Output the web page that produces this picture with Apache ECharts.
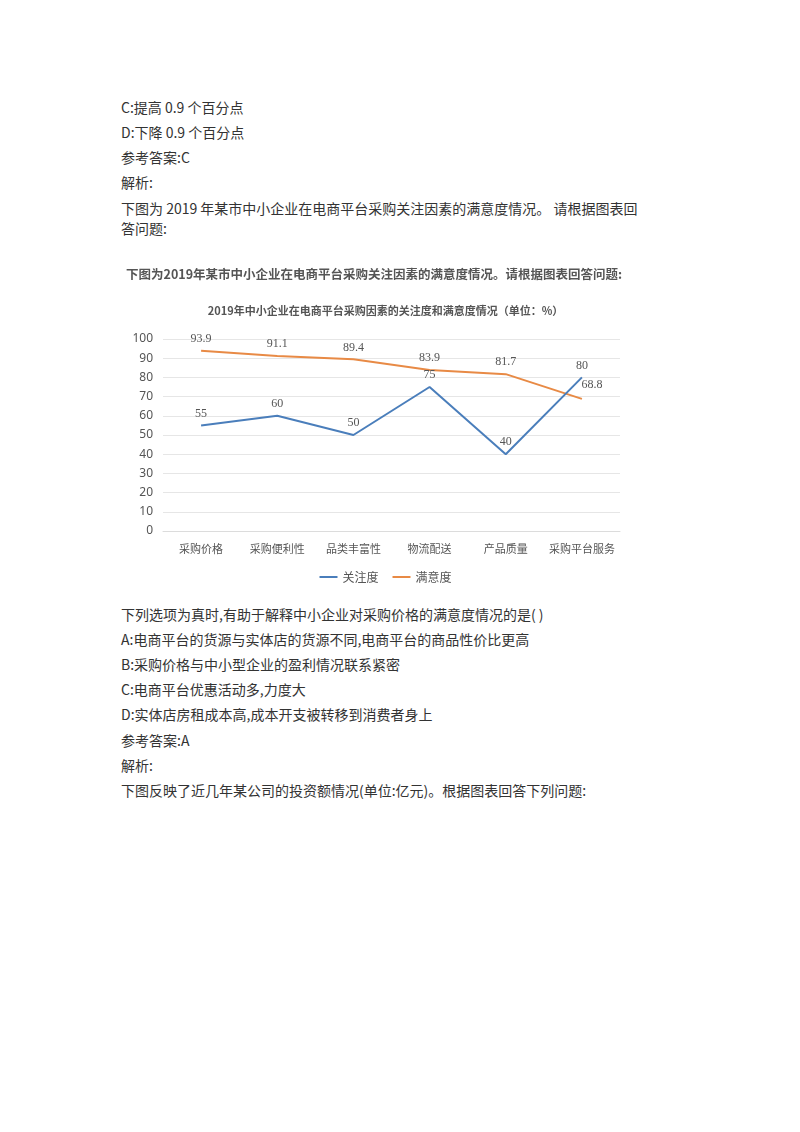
<!DOCTYPE html>
<html><head><meta charset="utf-8">
<script src="https://cdn.jsdelivr.net/npm/echarts@6/dist/echarts.min.js"></script>
<style>
html,body{margin:0;padding:0;background:#fff;width:800px;height:1132px;overflow:hidden;}
body{position:relative;font-family:"Noto Sans CJK SC","Noto Sans",sans-serif;color:#333;font-size:14px;}
.t{position:absolute;left:121px;white-space:nowrap;line-height:20px;}
#chart{position:absolute;left:118px;top:250px;width:535px;height:345px;}
</style></head>
<body>
<div class="t" style="top:97px">C:提高 0.9 个百分点</div>
<div class="t" style="top:122px">D:下降 0.9 个百分点</div>
<div class="t" style="top:147px">参考答案:C</div>
<div class="t" style="top:172px">解析:</div>
<div class="t" style="top:198px">下图为 2019 年某市中小企业在电商平台采购关注因素的满意度情况。 请根据图表回</div>
<div class="t" style="top:218px">答问题:</div>
<div id="chart"></div>
<div class="t" style="top:604px">下列选项为真时,有助于解释中小企业对采购价格的满意度情况的是( )</div>
<div class="t" style="top:629px">A:电商平台的货源与实体店的货源不同,电商平台的商品性价比更高</div>
<div class="t" style="top:654px">B:采购价格与中小型企业的盈利情况联系紧密</div>
<div class="t" style="top:679px">C:电商平台优惠活动多,力度大</div>
<div class="t" style="top:704px">D:实体店房租成本高,成本开支被转移到消费者身上</div>
<div class="t" style="top:730px">参考答案:A</div>
<div class="t" style="top:755px">解析:</div>
<div class="t" style="top:780px">下图反映了近几年某公司的投资额情况(单位:亿元)。根据图表回答下列问题:</div>
<script>
var categories = ['采购价格','采购便利性','品类丰富性','物流配送','产品质量','采购平台服务'];
var attention = [55, 60, 50, 75, 40, 80];
var satisfaction = [93.9, 91.1, 89.4, 83.9, 81.7, 68.8];
var seriesNames = ['关注度','满意度'];

var chart = echarts.init(document.getElementById('chart'));
var labelStyle = {show:true, position:'top', distance:6, fontFamily:'"Liberation Serif","DejaVu Serif",serif', fontSize:12, color:'#555'};
chart.setOption({
  backgroundColor:'#fff',
  animation:false,
  title:[
    {text:'下图为2019年某市中小企业在电商平台采购关注因素的满意度情况。请根据图表回答问题:', left:3, top:13,
     textStyle:{fontSize:12.5, fontWeight:'bold', color:'#555', fontFamily:'"Noto Sans CJK SC",sans-serif'}},
    {text:'2019年中小企业在电商平台采购因素的关注度和满意度情况（单位：%）', left:'center', top:50,
     textStyle:{fontSize:11, fontWeight:'bold', color:'#555', fontFamily:'"Noto Sans CJK SC",sans-serif'}}
  ],
  legend:{data:seriesNames, left:'center', top:316, icon:'rect', itemWidth:18, itemHeight:2, itemGap:14,
    textStyle:{fontSize:12, color:'#555', fontFamily:'"Noto Sans CJK SC",sans-serif'}},
  grid:{left:45, right:33, top:89, bottom:64},
  xAxis:{type:'category', data:categories, boundaryGap:true,
    axisLine:{show:true, lineStyle:{color:'#dcdcdc'}}, axisTick:{show:false},
    axisLabel:{interval:0, fontSize:11, color:'#555', margin:12, fontFamily:'"Noto Sans CJK SC",sans-serif'}},
  yAxis:{type:'value', min:0, max:100, interval:10,
    axisLine:{show:false}, axisTick:{show:false},
    axisLabel:{fontSize:12, color:'#555', margin:10, fontFamily:'"Noto Sans","DejaVu Sans",sans-serif'},
    splitLine:{lineStyle:{color:'#e6e6e6'}}},
  series:[
    {name:seriesNames[0], type:'line', data:attention, symbol:'circle', symbolSize:0.01, showSymbol:true, z:3,
     lineStyle:{color:'#4a7ebb', width:2}, itemStyle:{color:'#4a7ebb'},
     label:labelStyle},
    {name:seriesNames[1], type:'line', data:satisfaction, symbol:'circle', symbolSize:0.01, showSymbol:true, z:2,
     lineStyle:{color:'#e88a45', width:2}, itemStyle:{color:'#e88a45'},
     label:Object.assign({}, labelStyle, {formatter:function(p){return p.value.toFixed(1);}}),
     labelLayout:function(p){ if(p.dataIndex===5){return {dx:10, dy:-2};} return {}; }}
  ]
});
</script>
</body></html>
